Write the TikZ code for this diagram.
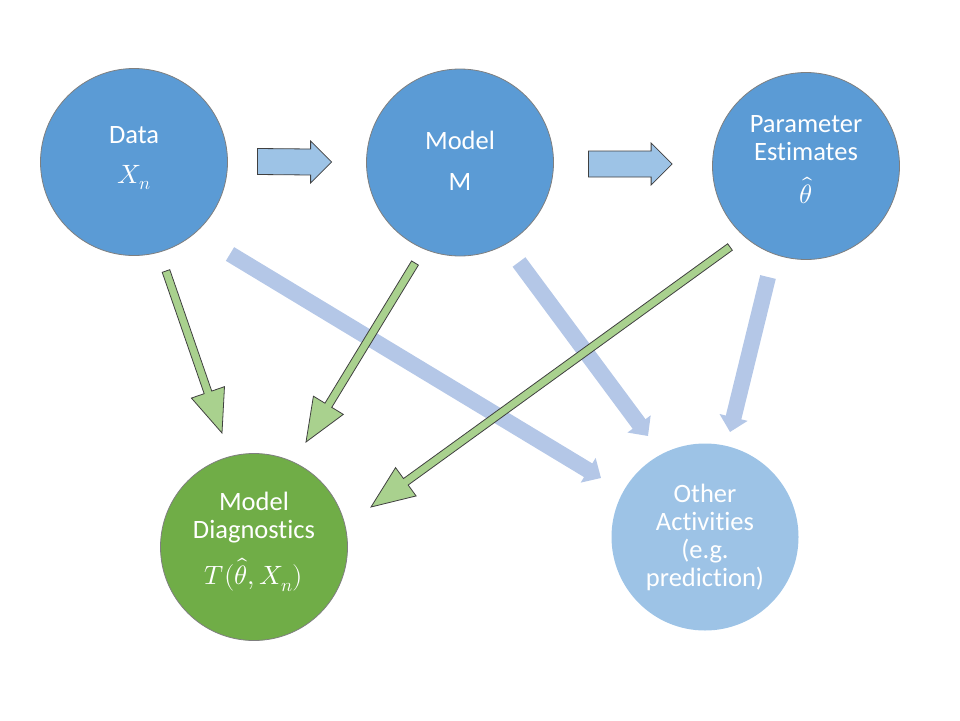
\documentclass[tikz,border=0pt]{standalone}
\usepackage{fontspec}
\usepackage{unicode-math}
\setmainfont{Carlito}[Ligatures=NoCommon]
\setmathfont{Latin Modern Math}
\usepackage{tikz}
\usetikzlibrary{arrows.meta,positioning,calc}
\definecolor{dblue}{HTML}{5B9BD5}
\definecolor{lblue}{HTML}{9DC3E6}
\definecolor{pblue}{HTML}{B4C7E7}
\definecolor{dgreen}{HTML}{70AD47}
\definecolor{lgreen}{HTML}{A9D18E}
\definecolor{rim}{HTML}{7F7F7F}
\definecolor{edge}{HTML}{404040}
\tikzset{
  ball/.style      = {circle, draw=rim, line width=0.8pt, minimum size=187pt,
                      inner sep=0pt},
  ctext/.style     = {text=white, align=center, inner sep=0pt,
                      font=\fontsize{26.5}{28}\selectfont},
  fatbody/.style   = {draw=edge, line width=0.8pt, fill=lblue},
  greenbody/.style = {draw=edge, line width=0.8pt, fill=lgreen},
  faint/.style     = {draw=pblue, line width=16pt,
                      -{Triangle[width=28pt,length=15pt]}},
}
% block arrow from #1 (tail) to #2 (tip), horizontal
\newcommand{\blockarrow}[2]{%
  \draw[fatbody] ($(#1)+(0,-13)$) -- ($(#2)+(-21,-13)$) -- ($(#2)+(-21,-21)$)
    -- (#2) -- ($(#2)+(-21,21)$) -- ($(#2)+(-21,13)$) -- ($(#1)+(0,13)$) -- cycle;}
% thin outlined arrow with a big head from #1 to #2
\newcommand{\greenarrow}[2]{%
  \coordinate (hb) at ($(#2)!43pt!(#1)$);
  \draw[greenbody] ($(#1)!4pt!90:(#2)$) -- ($(hb)!4pt!90:(#2)$)
    -- ($(hb)!17.5pt!90:(#2)$) -- (#2) -- ($(hb)!17.5pt!-90:(#2)$)
    -- ($(hb)!4pt!-90:(#2)$) -- ($(#1)!4pt!-90:(#2)$) -- cycle;}

\begin{document}
\begin{tikzpicture}[x=1pt, y=-1pt]
\useasboundingbox (0,0) rectangle (960,720);
% ---------------- circles ----------------
\node[ball, fill=dblue]  (data)  at (134,162)   {};
\node[ball, fill=dblue]  (model) at (460,162.5) {};
\node[ball, fill=dblue]  (param) at (806,166)   {};
\node[ball, fill=dgreen] (diag)  at (254,547)   {};
\node[ball, fill=lblue, draw=none] (other) at (705,537) {};
\node[ctext] (datatxt)  at ($(data)+(0,-4)$)    {Data\\[12pt]$X_{n}$};
\node[ctext] (modeltxt) at ($(model)+(0,-2)$)   {Model\\[13pt]M};
\node[ctext] (paramtxt) at ($(param)+(0,-6.5)$) {Parameter\\Estimates\\[15pt]$\hat{\theta}$};
\node[ctext] (diagtxt)  at ($(diag)+(0,-5)$)    {Model\\Diagnostics\\[14pt]$T(\hat{\theta},X_{n})$};
\node[ctext] (othertxt) at ($(other)+(0,0.5)$)  {Other\\Activities\\(e.g.\\prediction)};
% ---------------- block arrows ----------------
\coordinate (a1s) at ($(data.east)+(29.5,-0.5)$);
\coordinate (a1e) at ($(model.west)+(-34.5,-0.5)$);
\coordinate (a2s) at ($(model.east)+(34.5,1.5)$);
\coordinate (a2e) at ($(param.west)+(-40,-2)$);
\blockarrow{a1s}{a1e}
\blockarrow{a2s}{a2e}
% ---------------- other activities ----------------
\coordinate (b1s) at ($(data)+(96,92)$);
\coordinate (b1e) at ($(other)+(-104,-59)$);
\coordinate (b2s) at ($(model)+(59,99.5)$);
\coordinate (b2e) at ($(other)+(-57,-101)$);
\coordinate (b3s) at ($(param)+(-38,111)$);
\coordinate (b3e) at ($(other)+(25,-105)$);
\draw[faint] (b1s) -- (b1e);
\draw[faint] (b2s) -- (b2e);
\draw[faint] (b3s) -- (b3e);
% ---------------- diagnostics ----------------
\coordinate (g1s) at ($(data)+(32,109)$);
\coordinate (g1e) at ($(diag)+(-32,-114)$);
\coordinate (g2s) at ($(model)+(-45,100.5)$);
\coordinate (g2e) at ($(diag)+(52,-105)$);
\coordinate (g3s) at ($(param)+(-76,81)$);
\coordinate (g3e) at ($(diag)+(117,-40)$);
\greenarrow{g1s}{g1e}
\greenarrow{g2s}{g2e}
\greenarrow{g3s}{g3e}
\end{tikzpicture}
\end{document}
